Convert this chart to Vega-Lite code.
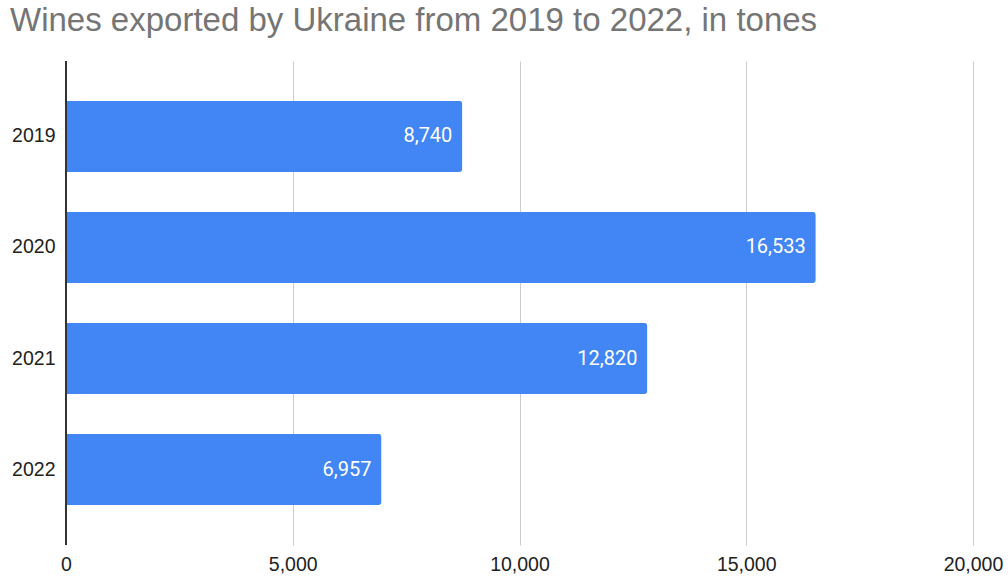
{
  "$schema": "https://vega.github.io/schema/vega-lite/v6.json",
  "width": 907,
  "height": 484,
  "autosize": {"type": "none"},
  "padding": {"left": 66, "top": 61, "right": 35, "bottom": 34},
  "background": "white",
  "title": {
    "text": "Wines exported by Ukraine from 2019 to 2022, in tones",
    "anchor": "start",
    "frame": "group",
    "dx": -56,
    "offset": -4,
    "baseline": "alphabetic",
    "font": "Liberation Sans",
    "fontSize": 33,
    "fontWeight": "normal",
    "color": "#757575"
  },
  "data": {
    "values": [
      {"year": "2019", "tones": 8740},
      {"year": "2020", "tones": 16533},
      {"year": "2021", "tones": 12820},
      {"year": "2022", "tones": 6957}
    ]
  },
  "config": {
    "view": {"stroke": null},
    "axis": {"labelFont": "Liberation Sans", "labelFontSize": 19.5, "labelColor": "#222222"}
  },
  "encoding": {
    "y": {
      "field": "year",
      "type": "nominal",
      "title": null,
      "scale": {"paddingInner": 0.36, "paddingOuter": 0.36},
      "axis": {"domain": false, "ticks": false, "labelPadding": 11}
    },
    "x": {
      "field": "tones",
      "type": "quantitative",
      "title": null,
      "scale": {"domain": [0, 20000], "nice": false},
      "axis": {
        "values": [0, 5000, 10000, 15000, 20000],
        "labelExpr": "format(datum.value, ',')",
        "domain": false,
        "ticks": false,
        "grid": true,
        "gridColor": "#cccccc",
        "gridWidth": 1,
        "labelPadding": 10,
        "labelFlush": false
      }
    }
  },
  "layer": [
    {
      "mark": {"type": "bar", "color": "#4285F4", "cornerRadiusEnd": 3}
    },
    {
      "mark": {"type": "rule", "color": "#333333", "strokeWidth": 1.5},
      "encoding": {"x": {"datum": 0, "type": "quantitative"}, "y": null}
    },
    {
      "mark": {"type": "text", "align": "right", "dx": -10, "font": "Roboto", "fontSize": 20, "color": "white"},
      "encoding": {"text": {"field": "tones", "type": "quantitative", "format": ","}}
    }
  ]
}
